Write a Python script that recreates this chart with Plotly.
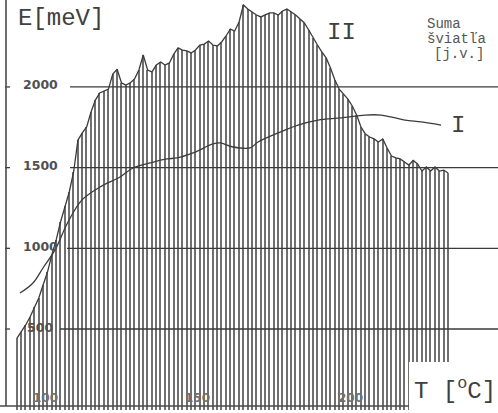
import numpy as np
import plotly.graph_objects as go

# ---- data ----
T_start = 90.82
T_step = 1.4274
E_II = [444, 481, 525, 574, 636, 692, 773, 853, 959, 1052,
        1163, 1262, 1349, 1473, 1671, 1715, 1752, 1845, 1919, 1963,
        1975, 1987, 2080, 2110, 2025, 2012, 2025, 2050, 2105, 2198,
        2105, 2093, 2136, 2155, 2136, 2149, 2204, 2242, 2229, 2223,
        2211, 2229, 2260, 2266, 2285, 2260, 2254, 2279, 2316, 2359,
        2347, 2403, 2508, 2483, 2465, 2446, 2434, 2446, 2459, 2459,
        2446, 2471, 2483, 2465, 2446, 2421, 2397, 2353, 2304, 2260,
        2217, 2180, 2118, 2043, 1987, 1957, 1925, 1882, 1826, 1752,
        1709, 1690, 1678, 1659, 1678, 1622, 1572, 1560, 1554, 1535,
        1516, 1545, 1523, 1479, 1504, 1479, 1504, 1479, 1485, 1467]
T_II = [round(T_start + T_step * i, 2) for i in range(len(E_II))]

T_I = [91.8, 96.07, 99.34, 103.28, 107.54, 112.13, 118.03, 124.59, 128.85,
       134.43, 140.0, 143.28, 148.52, 155.08, 157.38, 161.64, 167.21, 169.84,
       176.39, 182.95, 189.51, 197.05, 204.92, 210.16, 213.44, 218.03, 223.28,
       229.84]
E_I = [723, 785, 878, 990, 1163, 1300, 1380, 1442, 1498,
       1529, 1554, 1560, 1591, 1647, 1653, 1628, 1622, 1659,
       1715, 1764, 1795, 1808, 1826, 1826, 1814, 1795, 1783,
       1764]

y_ticks = [500, 1000, 1500, 2000]
x_ticks = [100, 150, 200]
legend_lines = ["Suma", "šviatľa", "[j.v.]"]

W, H = 498, 413
x_range = [85.25, 248.5]
y_range = [-20.6, 2539]

fig = go.Figure()
fig.add_trace(go.Bar(x=T_II, y=E_II, width=0.48,
                     marker=dict(color="#707070", line=dict(width=0)),
                     hoverinfo="skip", showlegend=False))
fig.add_trace(go.Scatter(x=T_II, y=E_II, mode="lines",
                         line=dict(color="#3c3c3c", width=1.3),
                         showlegend=False))
fig.add_trace(go.Scatter(x=T_I, y=E_I, mode="lines", line_shape="spline",
                         line=dict(color="#3c3c3c", width=1.3),
                         showlegend=False))

shapes = []
grid_start = {500: 60, 1000: 67, 1500: 70, 2000: 70}
for v in y_ticks:
    shapes.append(dict(type="line", xref="paper", yref="y",
                       x0=grid_start[v] / W, x1=1, y0=v, y1=v,
                       line=dict(color="#3a3a3a", width=1.3), layer="above"))
    shapes.append(dict(type="line", xref="paper", yref="y",
                       x0=5 / W, x1=10 / W, y0=v, y1=v,
                       line=dict(color="#3a3a3a", width=1.3), layer="above"))
# white box under T label
shapes.append(dict(type="rect", xref="paper", yref="paper",
                   x0=409 / W, x1=1, y0=0, y1=(H - 362) / H,
                   fillcolor="white", line=dict(width=0), layer="above"))
# left axis
shapes.append(dict(type="line", xref="paper", yref="paper",
                   x0=6 / W, x1=6 / W, y0=(H - 406) / H, y1=1,
                   line=dict(color="#4a4a4a", width=1.6), layer="above"))
# bottom axis
shapes.append(dict(type="line", xref="paper", yref="paper",
                   x0=0, x1=409 / W, y0=(H - 406) / H, y1=(H - 406) / H,
                   line=dict(color="#4a4a4a", width=1.4), layer="above"))

annotations = []
for v in y_ticks:
    annotations.append(dict(x=40 / W, xref="paper", y=v, yref="y", yshift=2,
                            text=str(v), showarrow=False,
                            font=dict(family="DejaVu Sans", size=12.5,
                                      color="#505050", weight="bold"),
                            xanchor="center", yanchor="middle"))
for v in x_ticks:
    annotations.append(dict(x=v, xref="x", y=(H - 398) / H, yref="paper",
                            text=str(v), showarrow=False,
                            font=dict(family="DejaVu Sans", size=12,
                                      color="#707070", weight="bold"),
                            xanchor="center", yanchor="middle"))
mono = "Liberation Mono"
annotations += [
    dict(x=16 / W, y=(H - 18) / H, xref="paper", yref="paper", text="E[meV]",
         showarrow=False, xanchor="left", yanchor="middle",
         font=dict(family=mono, size=24, color="#404040")),
    dict(x=412 / W, y=(H - 389) / H, xref="paper", yref="paper",
         text="T [<sup>o</sup>C]",
         showarrow=False, xanchor="left", yanchor="middle",
         font=dict(family=mono, size=24, color="#404040")),
    dict(x=341 / W, y=(H - 32) / H, xref="paper", yref="paper", text="II",
         showarrow=False, xanchor="center", yanchor="middle",
         font=dict(family=mono, size=24, color="#404040")),
    dict(x=458 / W, y=(H - 125) / H, xref="paper", yref="paper", text="I",
         showarrow=False, xanchor="center", yanchor="middle",
         font=dict(family=mono, size=24, color="#404040")),
]
legend_x = [425, 425, 432]
legend_y = [24, 39, 54]
for txt, lx, ly in zip(legend_lines, legend_x, legend_y):
    annotations.append(dict(x=lx / W, y=(H - ly) / H, xref="paper", yref="paper",
                            text=txt, showarrow=False, xanchor="left",
                            yanchor="middle",
                            font=dict(family=mono, size=14, color="#555555")))

fig.update_layout(
    width=W, height=H, margin=dict(l=0, r=0, t=0, b=0),
    paper_bgcolor="white", plot_bgcolor="white",
    xaxis=dict(range=x_range, visible=False, fixedrange=True),
    yaxis=dict(range=y_range, visible=False, fixedrange=True),
    bargap=0, shapes=shapes, annotations=annotations,
)
fig.write_html("out.html", config={"displayModeBar": False},
               post_script="document.body.style.margin='0px';document.body.style.padding='0px';")
